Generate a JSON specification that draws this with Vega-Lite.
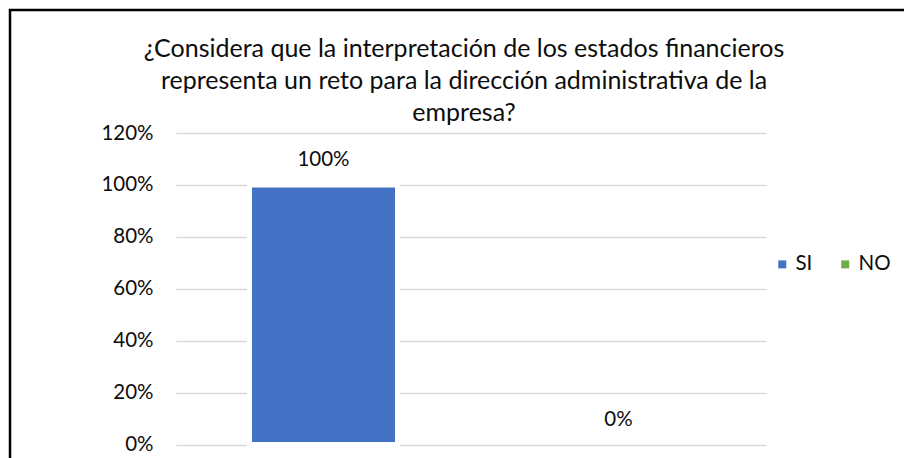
{
  "$schema": "https://vega.github.io/schema/vega-lite/v6.json",
  "autosize": {"type": "none"},
  "width": 904,
  "height": 458,
  "padding": {"left": 10, "top": 10, "right": -10, "bottom": -10},
  "background": "white",
  "config": {
    "view": {"stroke": "#000000", "strokeWidth": 2.5},
    "font": "Lato",
    "text": {"font": "Lato"}
  },
  "title": {
    "text": [
      "¿Considera que la interpretación de los estados financieros",
      "representa un reto para la dirección administrativa de la",
      "empresa?"
    ],
    "anchor": "middle",
    "frame": "group",
    "font": "Lato",
    "fontSize": 25,
    "fontWeight": "normal",
    "color": "#0d0d0d",
    "lineHeight": 32,
    "baseline": "alphabetic",
    "offset": -136,
    "dx": 2
  },
  "data": {
    "values": [
      {"cat": "SI", "value": 1.0},
      {"cat": "NO", "value": 0.0}
    ]
  },
  "encoding": {
    "x": {
      "field": "cat",
      "type": "nominal",
      "sort": null,
      "scale": {"domain": ["SI", "NO"], "range": [166, 756], "paddingInner": 0.4983, "paddingOuter": 0.249},
      "axis": null
    },
    "y": {
      "field": "value",
      "type": "quantitative",
      "scale": {"domain": [0, 1.2], "range": [434.5, 123], "nice": false, "zero": true},
      "axis": {
        "values": [0, 0.2, 0.4, 0.6, 0.8, 1, 1.2],
        "format": ".0%",
        "domain": false,
        "ticks": false,
        "offset": -166,
        "labelPadding": 23,
        "labelFont": "Lato",
        "labelFontSize": 20.5,
        "labelColor": "#0d0d0d",
        "title": null,
        "grid": true,
        "gridColor": "#d9d9d9",
        "gridWidth": 1.3
      }
    }
  },
  "layer": [
    {
      "mark": {"type": "bar", "stroke": "white"},
      "encoding": {
        "color": {
          "field": "cat",
          "type": "nominal",
          "scale": {"domain": ["SI", "NO"], "range": ["#4472C4", "#70AD47"]},
          "legend": {
            "title": null,
            "orient": "none",
            "direction": "horizontal",
            "legendX": 762,
            "legendY": 244,
            "padding": 0,
            "symbolType": "square",
            "symbolSize": 64,
            "symbolStrokeWidth": 0,
            "labelFont": "Lato",
            "labelFontSize": 20.5,
            "labelColor": "#0d0d0d",
            "labelOffset": 3,
            "columnPadding": 22
          }
        },
        "strokeWidth": {"condition": {"test": "datum.value > 0", "value": 5}, "value": 0}
      }
    },
    {
      "mark": {"type": "text", "dy": -25, "baseline": "middle", "fontSize": 20.5, "font": "Lato", "color": "#0d0d0d"},
      "encoding": {
        "text": {"field": "value", "type": "quantitative", "format": ".0%"}
      }
    }
  ]
}
